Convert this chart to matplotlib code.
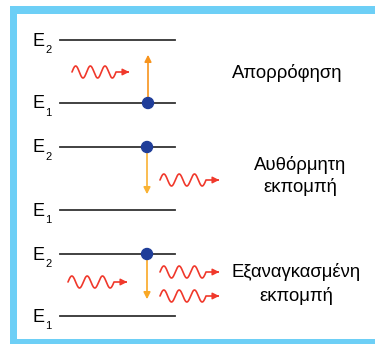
import numpy as np
import matplotlib.pyplot as plt
from matplotlib.patches import Rectangle, Circle

plt.rcParams['font.family'] = ['Liberation Sans', 'DejaVu Sans']

# energy level diagrams (pixel coords of the picture)
level_y = [(40, 103), (147, 210), (254, 316)]   # (E2, E1) per panel
level_x = (60, 175)
dot_x = [148, 147, 147]
dot_on = ['E1', 'E2', 'E2']
arrow_end = [52, 197, 302]
arrow_colors = ['#f7941d', '#f9b233', '#f9a825']
labels = [['Απορρόφηση'], ['Αυθόρμητη', 'εκπομπή'], ['Εξαναγκασμένη', 'εκπομπή']]
label_pos = [(287, [73]), (300, [165, 187]), (296, [272, 296])]
# photons: (x start, y centre, length)
photons = [(72, 72, 60), (160, 180, 62), (68, 282, 62), (160, 272, 62), (160, 296, 62)]

W, H = 375, 344
fig = plt.figure(figsize=(W / 100, H / 100), dpi=100)
ax = fig.add_axes([0, 0, 1, 1])
ax.set_xlim(0, W)
ax.set_ylim(H, 0)
ax.axis('off')

# blue frame
blue = '#6dcff6'
ax.add_patch(Rectangle((10, 6), W - 10, 8, color=blue, lw=0))
ax.add_patch(Rectangle((10, 6), 7, H - 6, color=blue, lw=0))
ax.add_patch(Rectangle((10, 339), W - 10, 5, color=blue, lw=0))


def photon(x0, yc, length):
    wl = length - 16
    xs = np.linspace(x0, x0 + wl, 200)
    ys = yc - 6 * np.sin(2 * np.pi * (xs - x0) / (wl / 3))
    xs = np.append(xs, x0 + length - 4)
    ys = np.append(ys, yc)
    ax.plot(xs, ys, color='#f0382b', lw=1.2, solid_capstyle='round')
    ax.annotate('', xy=(x0 + length, yc), xytext=(x0 + length - 7, yc),
                arrowprops=dict(arrowstyle='-|>', color='#f0382b', lw=1,
                                mutation_scale=10))


for i, (y2, y1) in enumerate(level_y):
    for y, sub in ((y2, '2'), (y1, '1')):
        ax.plot(level_x, (y, y), color='#333333', lw=1.3)
        ax.text(32, y + 1, 'E', fontsize=13, ha='left', va='center')
        ax.text(45, y + 10, sub, fontsize=8, ha='left', va='center')
    yd = y1 if dot_on[i] == 'E1' else y2
    ax.annotate('', xy=(dot_x[i], arrow_end[i]), xytext=(dot_x[i], yd),
                arrowprops=dict(arrowstyle='-|>', color=arrow_colors[i], lw=1.2,
                                mutation_scale=10))
    ax.add_patch(Circle((dot_x[i], yd), 5.5, color='#1f3d99', zorder=5))
    xc, ys = label_pos[i]
    for t, y in zip(labels[i], ys):
        ax.text(xc, y, t, fontsize=13.3, ha='center', va='center')

for x0, yc, length in photons:
    photon(x0, yc, length)

fig.savefig('out.png', dpi=100)
